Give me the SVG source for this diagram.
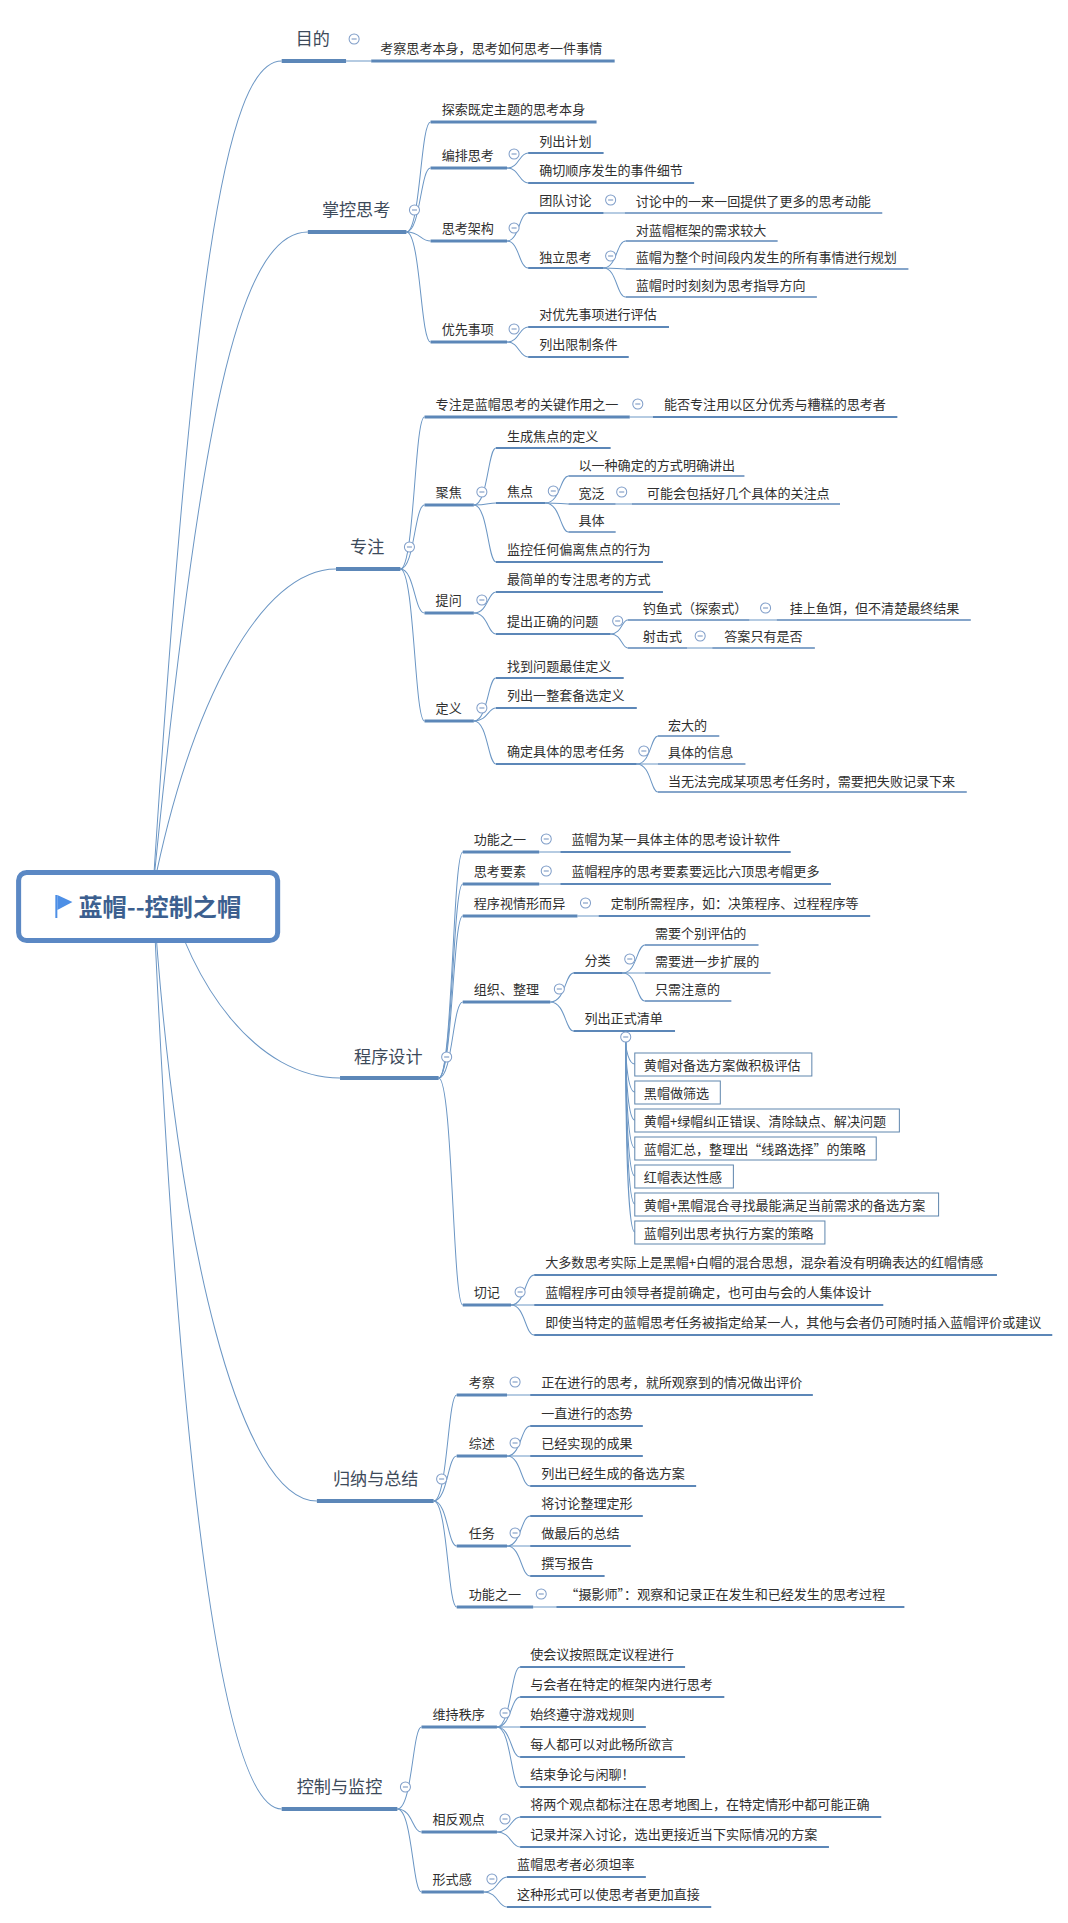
<svg xmlns="http://www.w3.org/2000/svg" width="1068" height="1923" viewBox="0 0 1068 1923">
<style>
text{font-family:"Noto Sans CJK SC","Microsoft YaHei","Liberation Sans",sans-serif;font-size:13px;fill:#2f2f2f}
.l1{font-size:17px;fill:#3d4a5a}
.root{font-size:24px;font-weight:700;fill:#3c5f8f}
.u1,.u2,.u3,.u4{stroke:#5c87b8;fill:none}
.u1{stroke-width:4}
.u2{stroke-width:3}
.u3{stroke-width:2.2}
.u4{stroke-width:1.4}
.c{stroke:#6b96c4;stroke-width:1;fill:none}
.b{fill:#fff;stroke:#5f86ad;stroke-width:1}
</style>
<defs>
<g id="i"><circle r="5" fill="#fff" stroke="#7f9dc8" stroke-width="1"/><path d="M-2.5 0H2.5" stroke="#6f8fbc" stroke-width="1"/></g>
</defs>
<g transform="scale(1.006 1)">
<g id="connectors" class="c">
<path class="c" d="M152 890C190 300 222 61 280 61"/>
<path class="c" d="M152 890C198 423 237 232 306 232"/>
<path class="c" d="M152 890C190 700 260 569 334 569"/>
<path class="c" d="M165 885C190 985 255 1078 338 1078"/>
<path class="c" d="M152 890C175 1250 240 1501 315 1501"/>
<path class="c" d="M152 890C178 1480 222 1809 280 1809"/>
<path class="c" d="M344 61H369"/>
<path class="c" d="M404 232C418 232 418 122 428 122"/>
<path class="c" d="M404 232C418 232 418 168 428 168"/>
<path class="c" d="M404 232C418 232 418 241 428 241"/>
<path class="c" d="M404 232C418 232 418 342 428 342"/>
<path class="c" d="M504 168C516 168 516 153 525 153"/>
<path class="c" d="M504 168C516 168 516 183 525 183"/>
<path class="c" d="M504 241C516 241 516 213 525 213"/>
<path class="c" d="M504 241C516 241 516 268 525 268"/>
<path class="c" d="M600 213H621"/>
<path class="c" d="M600 268C613 268 613 241 622 241"/>
<path class="c" d="M600 268C613 268 613 269 622 269"/>
<path class="c" d="M600 268C613 268 613 297 622 297"/>
<path class="c" d="M504 342C516 342 516 327 525 327"/>
<path class="c" d="M504 342C516 342 516 357 525 357"/>
<path class="c" d="M398 569C412 569 412 417 422 417"/>
<path class="c" d="M398 569C412 569 412 505 422 505"/>
<path class="c" d="M398 569C412 569 412 613 422 613"/>
<path class="c" d="M398 569C412 569 412 721 422 721"/>
<path class="c" d="M626 417H649"/>
<path class="c" d="M471 505C485 505 485 448 493 448"/>
<path class="c" d="M471 505C485 505 485 503 493 503"/>
<path class="c" d="M471 505C485 505 485 562 493 562"/>
<path class="c" d="M542 503C557 503 557 476 565 476"/>
<path class="c" d="M542 503C557 503 557 504 565 504"/>
<path class="c" d="M542 503C557 503 557 532 565 532"/>
<path class="c" d="M612 504H628"/>
<path class="c" d="M471 613C485 613 485 592 493 592"/>
<path class="c" d="M471 613C485 613 485 634 493 634"/>
<path class="c" d="M607 634C618 634 618 620 624 620"/>
<path class="c" d="M607 634C618 634 618 648 624 648"/>
<path class="c" d="M745 620H772"/>
<path class="c" d="M683 648H708"/>
<path class="c" d="M471 721C485 721 485 678 493 678"/>
<path class="c" d="M471 721C485 721 485 708 493 708"/>
<path class="c" d="M471 721C485 721 485 764 493 764"/>
<path class="c" d="M633 764C647 764 647 736 654 736"/>
<path class="c" d="M633 764C647 764 647 764 654 764"/>
<path class="c" d="M633 764C647 764 647 792 654 792"/>
<path class="c" d="M436 1078C450 1078 450 852 460 852"/>
<path class="c" d="M436 1078C450 1078 450 884 460 884"/>
<path class="c" d="M436 1078C450 1078 450 916 460 916"/>
<path class="c" d="M436 1078C450 1078 450 1002 460 1002"/>
<path class="c" d="M436 1078C450 1078 450 1305 460 1305"/>
<path class="c" d="M536 852H557"/>
<path class="c" d="M536 884H557"/>
<path class="c" d="M574 916H595"/>
<path class="c" d="M547 1002C562 1002 562 973 570 973"/>
<path class="c" d="M547 1002C562 1002 562 1031 570 1031"/>
<path class="c" d="M619 973C633 973 633 945 641 945"/>
<path class="c" d="M619 973C633 973 633 973 641 973"/>
<path class="c" d="M619 973C633 973 633 1001 641 1001"/>
<path class="c" d="M622 1042C622 1049 625 1064 631 1064"/>
<path class="c" d="M622 1042C622 1066 625 1092 631 1092"/>
<path class="c" d="M622 1042C622 1083 625 1120 631 1120"/>
<path class="c" d="M622 1042C622 1100 625 1148 631 1148"/>
<path class="c" d="M622 1042C622 1117 625 1176 631 1176"/>
<path class="c" d="M622 1042C622 1133 625 1204 631 1204"/>
<path class="c" d="M622 1042C622 1150 625 1232 631 1232"/>
<path class="c" d="M508 1305C522 1305 522 1275 531 1275"/>
<path class="c" d="M508 1305H531"/>
<path class="c" d="M508 1305C522 1305 522 1335 531 1335"/>
<path class="c" d="M431 1501C445 1501 445 1395 454 1395"/>
<path class="c" d="M431 1501C445 1501 445 1456 454 1456"/>
<path class="c" d="M431 1501C445 1501 445 1546 454 1546"/>
<path class="c" d="M431 1501C445 1501 445 1607 454 1607"/>
<path class="c" d="M504 1395H527"/>
<path class="c" d="M504 1456C518 1456 518 1426 527 1426"/>
<path class="c" d="M504 1456H527"/>
<path class="c" d="M504 1456C518 1456 518 1486 527 1486"/>
<path class="c" d="M504 1546C518 1546 518 1516 527 1516"/>
<path class="c" d="M504 1546H527"/>
<path class="c" d="M504 1546C518 1546 518 1576 527 1576"/>
<path class="c" d="M530 1607H553"/>
<path class="c" d="M395 1809C410 1809 410 1727 419 1727"/>
<path class="c" d="M395 1809C410 1809 410 1832 419 1832"/>
<path class="c" d="M395 1809C410 1809 410 1892 419 1892"/>
<path class="c" d="M494 1727C508 1727 508 1667 517 1667"/>
<path class="c" d="M494 1727C508 1727 508 1697 517 1697"/>
<path class="c" d="M494 1727H517"/>
<path class="c" d="M494 1727C508 1727 508 1757 517 1757"/>
<path class="c" d="M494 1727C508 1727 508 1787 517 1787"/>
<path class="c" d="M494 1832C508 1832 508 1817 517 1817"/>
<path class="c" d="M494 1832C508 1832 508 1847 517 1847"/>
<path class="c" d="M481 1892C495 1892 495 1877 504 1877"/>
<path class="c" d="M481 1892C495 1892 495 1907 504 1907"/>
</g>
<g id="root"><rect x="18.500" y="872.500" width="257.500" height="68" rx="8" fill="#fff" stroke="#5b88c4" stroke-width="5"/><path d="M56 895V918" stroke="#4d8fe6" stroke-width="2"/><path d="M57 895L72 902L57 910Z" fill="#4d8fe6"/><text class="root" x="78" y="916">蓝帽--控制之帽</text></g>

<g id="n1"><path class="u1" d="M280 61H344"/><text class="l1" x="294" y="45">目的</text><use href="#i" x="352" y="39"/></g>
<g id="n1-1"><path class="u2" d="M369 61H611"/><text x="378" y="53">考察思考本身，思考如何思考一件事情</text></g>

<g id="n2"><path class="u1" d="M306 232H404"/><text class="l1" x="320" y="216">掌控思考</text><use href="#i" x="412" y="210"/></g>
<g id="n2-1"><path class="u2" d="M428 122H593"/><text x="439" y="114">探索既定主题的思考本身</text></g>
<g id="n2-2"><path class="u2" d="M428 168H504"/><text x="439" y="160">编排思考</text><use href="#i" x="511" y="154"/></g>
<g id="n2-2-1"><path class="u3" d="M525 153H600"/><text x="536" y="146">列出计划</text></g>
<g id="n2-2-2"><path class="u3" d="M525 183H690"/><text x="536" y="175">确切顺序发生的事件细节</text></g>
<g id="n2-3"><path class="u2" d="M428 241H504"/><text x="439" y="233">思考架构</text><use href="#i" x="511" y="228"/></g>
<g id="n2-3-1"><path class="u3" d="M525 213H600"/><text x="536" y="205">团队讨论</text><use href="#i" x="607" y="200"/></g>
<g id="n2-3-1-1"><path class="u4" d="M621 213H877"/><text x="632" y="206">讨论中的一来一回提供了更多的思考动能</text></g>
<g id="n2-3-2"><path class="u3" d="M525 268H600"/><text x="536" y="262">独立思考</text><use href="#i" x="607" y="256"/></g>
<g id="n2-3-2-1"><path class="u4" d="M622 241H773"/><text x="632" y="235">对蓝帽框架的需求较大</text></g>
<g id="n2-3-2-2"><path class="u4" d="M622 269H903"/><text x="632" y="262">蓝帽为整个时间段内发生的所有事情进行规划</text></g>
<g id="n2-3-2-3"><path class="u4" d="M622 297H812"/><text x="632" y="290">蓝帽时时刻刻为思考指导方向</text></g>
<g id="n2-4"><path class="u2" d="M428 342H504"/><text x="439" y="334">优先事项</text><use href="#i" x="511" y="329"/></g>
<g id="n2-4-1"><path class="u3" d="M525 327H665"/><text x="536" y="319">对优先事项进行评估</text></g>
<g id="n2-4-2"><path class="u3" d="M525 357H625"/><text x="536" y="349">列出限制条件</text></g>

<g id="n3"><path class="u1" d="M334 569H398"/><text class="l1" x="348" y="553">专注</text><use href="#i" x="407" y="547"/></g>
<g id="n3-1"><path class="u2" d="M422 417H626"/><text x="433" y="409">专注是蓝帽思考的关键作用之一</text><use href="#i" x="634" y="404"/></g>
<g id="n3-1-1"><path class="u3" d="M649 417H892"/><text x="660" y="409">能否专注用以区分优秀与糟糕的思考者</text></g>
<g id="n3-2"><path class="u2" d="M422 505H471"/><text x="433" y="497">聚焦</text><use href="#i" x="479" y="492"/></g>
<g id="n3-2-1"><path class="u3" d="M493 448H607"/><text x="504" y="441">生成焦点的定义</text></g>
<g id="n3-2-2"><path class="u3" d="M493 503H542"/><text x="504" y="496">焦点</text><use href="#i" x="550" y="491"/></g>
<g id="n3-2-2-1"><path class="u4" d="M565 476H740"/><text x="575" y="470">以一种确定的方式明确讲出</text></g>
<g id="n3-2-2-2"><path class="u4" d="M565 504H612"/><text x="575" y="498">宽泛</text><use href="#i" x="618" y="492"/></g>
<g id="n3-2-2-2-1"><path class="u4" d="M628 504H835"/><text x="643" y="498">可能会包括好几个具体的关注点</text></g>
<g id="n3-2-2-3"><path class="u4" d="M565 532H612"/><text x="575" y="525">具体</text></g>
<g id="n3-2-3"><path class="u3" d="M493 562H659"/><text x="504" y="554">监控任何偏离焦点的行为</text></g>
<g id="n3-3"><path class="u2" d="M422 613H471"/><text x="433" y="605">提问</text><use href="#i" x="479" y="600"/></g>
<g id="n3-3-1"><path class="u3" d="M493 592H659"/><text x="504" y="584">最简单的专注思考的方式</text></g>
<g id="n3-3-2"><path class="u3" d="M493 634H607"/><text x="504" y="626">提出正确的问题</text><use href="#i" x="614" y="621"/></g>
<g id="n3-3-2-1"><path class="u4" d="M624 620H745"/><text x="639" y="613">钓鱼式（探索式）</text><use href="#i" x="761" y="608"/></g>
<g id="n3-3-2-1-1"><path class="u4" d="M772 620H965"/><text x="785" y="613">挂上鱼饵，但不清楚最终结果</text></g>
<g id="n3-3-2-2"><path class="u4" d="M624 648H683"/><text x="639" y="641">射击式</text><use href="#i" x="696" y="636"/></g>
<g id="n3-3-2-2-1"><path class="u4" d="M708 648H810"/><text x="720" y="641">答案只有是否</text></g>
<g id="n3-4"><path class="u2" d="M422 721H471"/><text x="433" y="713">定义</text><use href="#i" x="479" y="708"/></g>
<g id="n3-4-1"><path class="u3" d="M493 678H620"/><text x="504" y="671">找到问题最佳定义</text></g>
<g id="n3-4-2"><path class="u3" d="M493 708H633"/><text x="504" y="700">列出一整套备选定义</text></g>
<g id="n3-4-3"><path class="u3" d="M493 764H633"/><text x="504" y="756">确定具体的思考任务</text><use href="#i" x="640" y="751"/></g>
<g id="n3-4-3-1"><path class="u4" d="M654 736H715"/><text x="664" y="730">宏大的</text></g>
<g id="n3-4-3-2"><path class="u4" d="M654 764H741"/><text x="664" y="757">具体的信息</text></g>
<g id="n3-4-3-3"><path class="u4" d="M654 792H961"/><text x="664" y="786">当无法完成某项思考任务时，需要把失败记录下来</text></g>

<g id="n4"><path class="u1" d="M338 1078H436"/><text class="l1" x="352" y="1063">程序设计</text><use href="#i" x="444" y="1057"/></g>
<g id="n4-1"><path class="u2" d="M460 852H536"/><text x="471" y="844">功能之一</text><use href="#i" x="543" y="839"/></g>
<g id="n4-1-1"><path class="u3" d="M557 852H786"/><text x="568" y="844">蓝帽为某一具体主体的思考设计软件</text></g>
<g id="n4-2"><path class="u2" d="M460 884H536"/><text x="471" y="876">思考要素</text><use href="#i" x="543" y="871"/></g>
<g id="n4-2-1"><path class="u3" d="M557 884H826"/><text x="568" y="876">蓝帽程序的思考要素要远比六顶思考帽更多</text></g>
<g id="n4-3"><path class="u2" d="M460 916H574"/><text x="471" y="908">程序视情形而异</text><use href="#i" x="582" y="903"/></g>
<g id="n4-3-1"><path class="u3" d="M595 916H865"/><text x="607" y="908">定制所需程序，如：决策程序、过程程序等</text></g>
<g id="n4-4"><path class="u2" d="M460 1002H547"/><text x="471" y="994">组织、整理</text><use href="#i" x="556" y="989"/></g>
<g id="n4-4-1"><path class="u3" d="M570 973H619"/><text x="581" y="965">分类</text><use href="#i" x="626" y="959"/></g>
<g id="n4-4-1-1"><path class="u4" d="M641 945H754"/><text x="651" y="938">需要个别评估的</text></g>
<g id="n4-4-1-2"><path class="u4" d="M641 973H766"/><text x="651" y="966">需要进一步扩展的</text></g>
<g id="n4-4-1-3"><path class="u4" d="M641 1001H727"/><text x="651" y="994">只需注意的</text></g>
<g id="n4-4-2"><path class="u3" d="M570 1031H671"/><text x="581" y="1023">列出正式清单</text><use href="#i" x="622" y="1037"/></g>
<g id="n4-4-2-1"><rect class="b" x="631" y="1053" width="176" height="23"/><text x="640" y="1070">黄帽对备选方案做积极评估</text></g>
<g id="n4-4-2-2"><rect class="b" x="631" y="1081" width="85" height="23"/><text x="640" y="1098">黑帽做筛选</text></g>
<g id="n4-4-2-3"><rect class="b" x="631" y="1109" width="263" height="23"/><text x="640" y="1126">黄帽+绿帽纠正错误、清除缺点、解决问题</text></g>
<g id="n4-4-2-4"><rect class="b" x="631" y="1137" width="240" height="23"/><text x="640" y="1154">蓝帽汇总，整理出“线路选择”的策略</text></g>
<g id="n4-4-2-5"><rect class="b" x="631" y="1165" width="98" height="23"/><text x="640" y="1182">红帽表达性感</text></g>
<g id="n4-4-2-6"><rect class="b" x="631" y="1193" width="302" height="23"/><text x="640" y="1210">黄帽+黑帽混合寻找最能满足当前需求的备选方案</text></g>
<g id="n4-4-2-7"><rect class="b" x="631" y="1221" width="189" height="23"/><text x="640" y="1238">蓝帽列出思考执行方案的策略</text></g>
<g id="n4-5"><path class="u2" d="M460 1305H508"/><text x="471" y="1297">切记</text><use href="#i" x="517" y="1292"/></g>
<g id="n4-5-1"><path class="u3" d="M531 1275H991"/><text x="542" y="1267">大多数思考实际上是黑帽+白帽的混合思想，混杂着没有明确表达的红帽情感</text></g>
<g id="n4-5-2"><path class="u3" d="M531 1305H878"/><text x="542" y="1297">蓝帽程序可由领导者提前确定，也可由与会的人集体设计</text></g>
<g id="n4-5-3"><path class="u3" d="M531 1335H1046"/><text x="542" y="1327">即使当特定的蓝帽思考任务被指定给某一人，其他与会者仍可随时插入蓝帽评价或建议</text></g>

<g id="n5"><path class="u1" d="M315 1501H431"/><text class="l1" x="331" y="1485">归纳与总结</text><use href="#i" x="439" y="1479"/></g>
<g id="n5-1"><path class="u2" d="M454 1395H504"/><text x="466" y="1387">考察</text><use href="#i" x="512" y="1382"/></g>
<g id="n5-1-1"><path class="u3" d="M527 1395H808"/><text x="538" y="1387">正在进行的思考，就所观察到的情况做出评价</text></g>
<g id="n5-2"><path class="u2" d="M454 1456H504"/><text x="466" y="1448">综述</text><use href="#i" x="512" y="1443"/></g>
<g id="n5-2-1"><path class="u3" d="M527 1426H639"/><text x="538" y="1418">一直进行的态势</text></g>
<g id="n5-2-2"><path class="u3" d="M527 1456H639"/><text x="538" y="1448">已经实现的成果</text></g>
<g id="n5-2-3"><path class="u3" d="M527 1486H692"/><text x="538" y="1478">列出已经生成的备选方案</text></g>
<g id="n5-3"><path class="u2" d="M454 1546H504"/><text x="466" y="1538">任务</text><use href="#i" x="512" y="1533"/></g>
<g id="n5-3-1"><path class="u3" d="M527 1516H639"/><text x="538" y="1508">将讨论整理定形</text></g>
<g id="n5-3-2"><path class="u3" d="M527 1546H627"/><text x="538" y="1538">做最后的总结</text></g>
<g id="n5-3-3"><path class="u3" d="M527 1576H601"/><text x="538" y="1568">撰写报告</text></g>
<g id="n5-4"><path class="u2" d="M454 1607H530"/><text x="466" y="1599">功能之一</text><use href="#i" x="538" y="1594"/></g>
<g id="n5-4-1"><path class="u3" d="M553 1607H899"/><text x="562" y="1599">“摄影师”：观察和记录正在发生和已经发生的思考过程</text></g>

<g id="n6"><path class="u1" d="M280 1809H395"/><text class="l1" x="295" y="1793">控制与监控</text><use href="#i" x="403" y="1787"/></g>
<g id="n6-1"><path class="u2" d="M419 1727H494"/><text x="430" y="1719">维持秩序</text><use href="#i" x="502" y="1713"/></g>
<g id="n6-1-1"><path class="u3" d="M517 1667H681"/><text x="527" y="1659">使会议按照既定议程进行</text></g>
<g id="n6-1-2"><path class="u3" d="M517 1697H720"/><text x="527" y="1689">与会者在特定的框架内进行思考</text></g>
<g id="n6-1-3"><path class="u3" d="M517 1727H642"/><text x="527" y="1719">始终遵守游戏规则</text></g>
<g id="n6-1-4"><path class="u3" d="M517 1757H681"/><text x="527" y="1749">每人都可以对此畅所欲言</text></g>
<g id="n6-1-5"><path class="u3" d="M517 1787H642"/><text x="527" y="1779">结束争论与闲聊！</text></g>
<g id="n6-2"><path class="u2" d="M419 1832H494"/><text x="430" y="1824">相反观点</text><use href="#i" x="502" y="1819"/></g>
<g id="n6-2-1"><path class="u3" d="M517 1817H876"/><text x="527" y="1809">将两个观点都标注在思考地图上，在特定情形中都可能正确</text></g>
<g id="n6-2-2"><path class="u3" d="M517 1847H824"/><text x="527" y="1839">记录并深入讨论，选出更接近当下实际情况的方案</text></g>
<g id="n6-3"><path class="u2" d="M419 1892H481"/><text x="430" y="1884">形式感</text><use href="#i" x="489" y="1879"/></g>
<g id="n6-3-1"><path class="u3" d="M504 1877H642"/><text x="514" y="1869">蓝帽思考者必须坦率</text></g>
<g id="n6-3-2"><path class="u3" d="M504 1907H707"/><text x="514" y="1899">这种形式可以使思考者更加直接</text></g>
</g>
</svg>
